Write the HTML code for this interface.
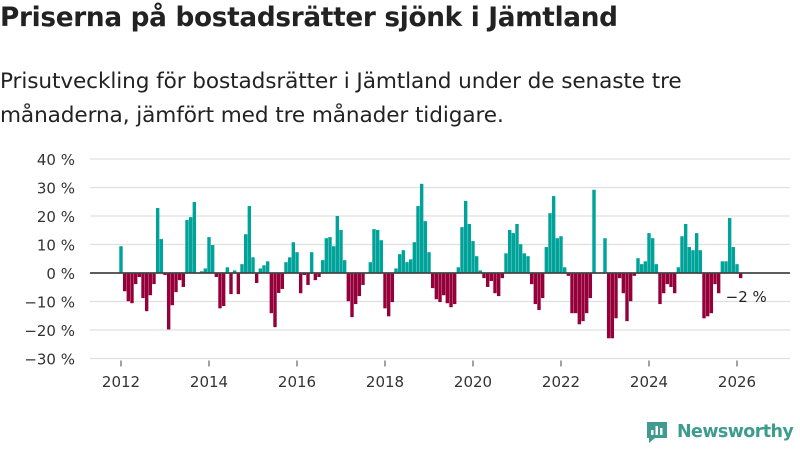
<!DOCTYPE html>
<html><head><meta charset="utf-8"><style>
body{margin:0;width:800px;height:450px;background:#fff;font-family:"Liberation Sans","DejaVu Sans",sans-serif;overflow:hidden;position:relative}
h1{position:absolute;left:0;top:3px;margin:0;font-size:26.3px;font-weight:bold;color:#222;font-family:"DejaVu Sans",sans-serif;letter-spacing:-0.3px}
p{position:absolute;left:0;top:65px;margin:0;font-size:21.6px;line-height:34px;color:#222;font-family:"DejaVu Sans",sans-serif;letter-spacing:-0.1px}
</style></head><body>
<h1>Priserna på bostadsrätter sjönk i Jämtland</h1>
<p>Prisutveckling för bostadsrätter i Jämtland under de senaste tre<br>månaderna, jämfört med tre månader tidigare.</p>
<svg id="chart" width="800" height="450" style="position:absolute;left:0;top:0"></svg>
<script>
const yTicks=[40,30,20,10,0,-10,-20,-30];
const yTickLabels=["40 %","30 %","20 %","10 %","0 %","−10 %","−20 %","−30 %"];
const xYears=[2012,2014,2016,2018,2020,2022,2024,2026];
const startYear=2012;
const values=[
9.4,-6.4,-9.9,-10.6,-3.9,-1.4,-8.8,-13.4,-7.8,-3.9,22.8,11.9,
-0.7,-19.8,-11.3,-6.7,-2.5,-4.9,18.6,19.6,24.9,0,0.6,1.6,
12.6,9.8,-1.4,-12.4,-11.6,2,-7.4,0.9,-7.4,3.1,13.6,23.5,
5.5,-3.5,1.6,2.7,4.1,-14.1,-19,-7,-5.6,3.8,5.5,10.8,
7.3,-7.1,-0.7,-4.2,7.3,-2.5,-1.4,4.5,12.2,12.6,9.4,20,
15.1,4.5,-9.9,-15.5,-10.9,-8.1,-4.2,0,3.8,15.4,15.1,11.5,
-12.4,-15.2,-10.2,1.6,6.6,8,3.8,4.8,10.8,23.5,31.3,18.2,
7.3,-5.3,-9.2,-10.2,-7.8,-10.6,-12,-10.9,2,16.1,25.3,17.2,
11.2,5.9,0.9,-1.8,-4.9,-2.8,-7.1,-8.1,-1.8,6.9,15.1,14,
17.2,10.1,6.9,5.9,-3.9,-10.9,-13,-8.8,9.1,21,27,12.2,
12.9,2,-1,-14.1,-14.1,-18,-16.9,-14.1,-8.8,29.2,0,0,
12.2,-22.9,-22.9,-15.9,-1.8,-7.1,-16.9,-9.9,-1,5.2,3.1,4.1,
14,12.2,3.1,-10.9,-7.1,-3.9,-4.9,-7.1,2,12.9,17.2,9.1,
8,14,8,-15.9,-15.2,-14.1,-3.9,-7.1,4.1,4.1,19.3,9.1,
3.1,-1.8];
const NS="http://www.w3.org/2000/svg";
const svg=document.getElementById('chart');
const y=v=>273-v*2.85;
const x=m=>121+m*44/12;
function mk(t,a){const e=document.createElementNS(NS,t);for(const k in a)e.setAttribute(k,a[k]);svg.appendChild(e);return e;}
yTicks.forEach((t,i)=>{
 if(t!==0){const g=mk('line',{x1:90,x2:790,y1:y(t),y2:y(t),stroke:'#e0e0e0','stroke-width':1.2});
 
 }
 const l=mk('text',{x:75,y:y(t)+6,'text-anchor':'end','font-size':15,fill:'#333','font-family':'DejaVu Sans, sans-serif'});
 l.textContent=yTickLabels[i];
 
 
});
values.forEach((v,i)=>{
 const r=mk('rect',{x:x(i)-1.7,width:3.4,y:v>=0?y(v):y(0),height:Math.abs(y(v)-y(0)),fill:v>=0?'#00a399':'#95003a'});
 
 
});
const z=mk('line',{x1:90,x2:790,y1:y(0),y2:y(0),stroke:'#444','stroke-width':1.8});


xYears.forEach(yr=>{
 const m=(yr-startYear)*12;
 const tk=mk('line',{x1:x(m),x2:x(m),y1:y(-30)+2,y2:y(-30)+8,stroke:'#444','stroke-width':1});
 
 
 const l=mk('text',{x:x(m),y:387,'text-anchor':'middle','font-size':15,fill:'#333','font-family':'DejaVu Sans, sans-serif'});
 l.textContent=yr;
 
 
});
const last=values.length-1;
const lb=mk('text',{x:x(last)-15,y:302,'font-size':15,fill:'#222','font-family':'DejaVu Sans, sans-serif'});
lb.textContent=(values[last]<0?'−':'')+Math.round(Math.abs(values[last]))+' %';


</script>
<div style="position:absolute;left:645px;top:420px;display:flex;align-items:center">
<svg width="24" height="24" viewBox="0 0 24 24"><path d="M2 2h20v16H10l-6 5v-5H2z" fill="#3d9c8e"/><rect x="6" y="10" width="2.5" height="5" fill="#fff"/><rect x="10.5" y="6" width="2.5" height="9" fill="#fff"/><rect x="15" y="8" width="2.5" height="7" fill="#fff"/></svg>
<span style="font-size:17.5px;font-weight:bold;color:#3d9c8e;margin-left:8px;font-family:'DejaVu Sans',sans-serif;letter-spacing:-0.6px">Newsworthy</span></div>
</body></html>
